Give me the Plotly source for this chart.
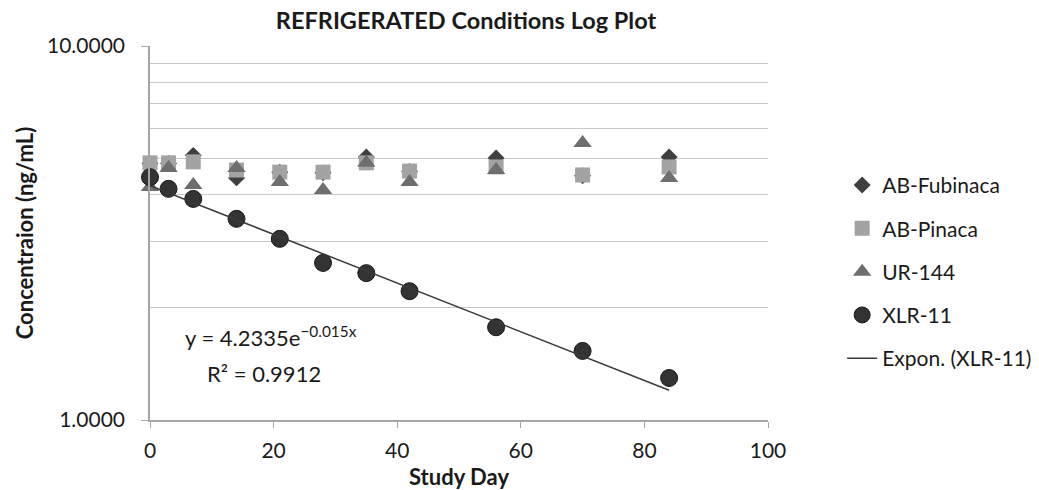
import numpy as np
import plotly.graph_objects as go

days = [0, 3, 7, 14, 21, 28, 35, 42, 56, 70, 84]
ab_fubinaca = [4.85, 4.85, 5.10, 4.44, 4.60, 4.58, 5.05, 4.62, 5.02, 4.50, 5.05]
ab_pinaca = [4.87, 4.87, 4.90, 4.66, 4.60, 4.60, 4.87, 4.63, 4.75, 4.52, 4.75]
ur_144 = [4.20, 4.72, 4.25, 4.72, 4.33, 4.12, 4.87, 4.33, 4.66, 5.50, 4.44]
xlr_11 = [4.46, 4.15, 3.90, 3.45, 3.05, 2.63, 2.47, 2.21, 1.77, 1.53, 1.295]

fit_a = 4.2335
fit_b = -0.015
r2 = 0.9912

font_family = "Lato, 'Open Sans', Arial, sans-serif"
txt = "#1a1a1a"

fig = go.Figure()

fig.add_trace(go.Scatter(
    x=days, y=ab_fubinaca, mode="markers", name="AB-Fubinaca", legendgroup="a",
    marker=dict(symbol="diamond", size=13, color="#3f3f3f"), cliponaxis=False))
fig.add_trace(go.Scatter(
    x=days, y=ab_pinaca, mode="markers", name="AB-Pinaca", legendgroup="b",
    marker=dict(symbol="square", size=15, color="#a3a3a3"), cliponaxis=False))
fig.add_trace(go.Scatter(
    x=days, y=ur_144, mode="markers", name="UR-144", legendgroup="c",
    marker=dict(symbol="triangle-up", size=16, color="#6e6e6e"), cliponaxis=False))
fig.add_trace(go.Scatter(
    x=days, y=xlr_11, mode="markers", name="XLR-11", legendgroup="d",
    marker=dict(symbol="circle", size=17, color="#333333",
                line=dict(color="#1a1a1a", width=1)), cliponaxis=False))

trend_x = np.linspace(min(days), max(days), 50)
trend_y = fit_a * np.exp(fit_b * trend_x)
fig.add_trace(go.Scatter(
    x=trend_x, y=trend_y, mode="lines", name="Expon. (XLR-11)", legendgroup="e",
    line=dict(color="#3a3a3a", width=1.5), cliponaxis=False))

fig.add_annotation(x=0.053, y=0.222, xref="paper", yref="paper",
                   text="y = %.4fe<sup>−%.3fx</sup>" % (fit_a, -fit_b),
                   showarrow=False, xanchor="left", yanchor="middle",
                   font=dict(size=22, color=txt, family=font_family))
fig.add_annotation(x=0.089, y=0.124, xref="paper", yref="paper",
                   text="R² = %.4f" % r2,
                   showarrow=False, xanchor="left", yanchor="middle",
                   font=dict(size=22, color=txt, family=font_family))

fig.update_layout(
    width=1039, height=490,
    margin=dict(l=150, r=271, t=46, b=70, autoexpand=False),
    paper_bgcolor="white", plot_bgcolor="white",
    font=dict(family=font_family, color=txt),
    title=dict(text="<b>REFRIGERATED Conditions Log Plot</b>", x=466 / 1039, xanchor="center",
               y=1 - 21 / 490, yanchor="middle", font=dict(size=23.5, color=txt)),
    showlegend=True,
    legend=dict(x=1.12, xanchor="left", y=0.396, yanchor="middle",
                font=dict(size=21, color=txt), tracegroupgap=13,
                bgcolor="rgba(0,0,0,0)"),
)

fig.update_xaxes(
    range=[0, 100], tickvals=[0, 20, 40, 60, 80, 100],
    showline=True, linecolor="#a6a6a6", linewidth=1.5,
    ticks="outside", tickcolor="#a6a6a6", ticklen=6,
    ticklabelstandoff=5, automargin=False,
    showgrid=False, zeroline=False,
    tickfont=dict(size=21, color=txt),
    title=dict(text="<b>Study Day</b>", font=dict(size=22, color=txt), standoff=12),
)
fig.update_yaxes(
    type="log", range=[0, 1],
    tickvals=[1, 10], ticktext=["1.0000", "10.0000"],
    showline=True, linecolor="#a6a6a6", linewidth=1.5,
    ticks="outside", tickcolor="#a6a6a6", ticklen=7,
    ticklabelstandoff=12, automargin=False,
    showgrid=True, gridcolor="#c8c8c8", gridwidth=1.2,
    minor=dict(tickvals=[2, 3, 4, 5, 6, 7, 8, 9], showgrid=True,
               gridcolor="#c8c8c8", gridwidth=1.2, ticks=""),
    zeroline=False,
    tickfont=dict(size=21, color=txt),
    title=dict(text="<b>Concentraion (ng/mL)</b>", font=dict(size=22, color=txt), standoff=7),
)

fig.write_html("out.html")
